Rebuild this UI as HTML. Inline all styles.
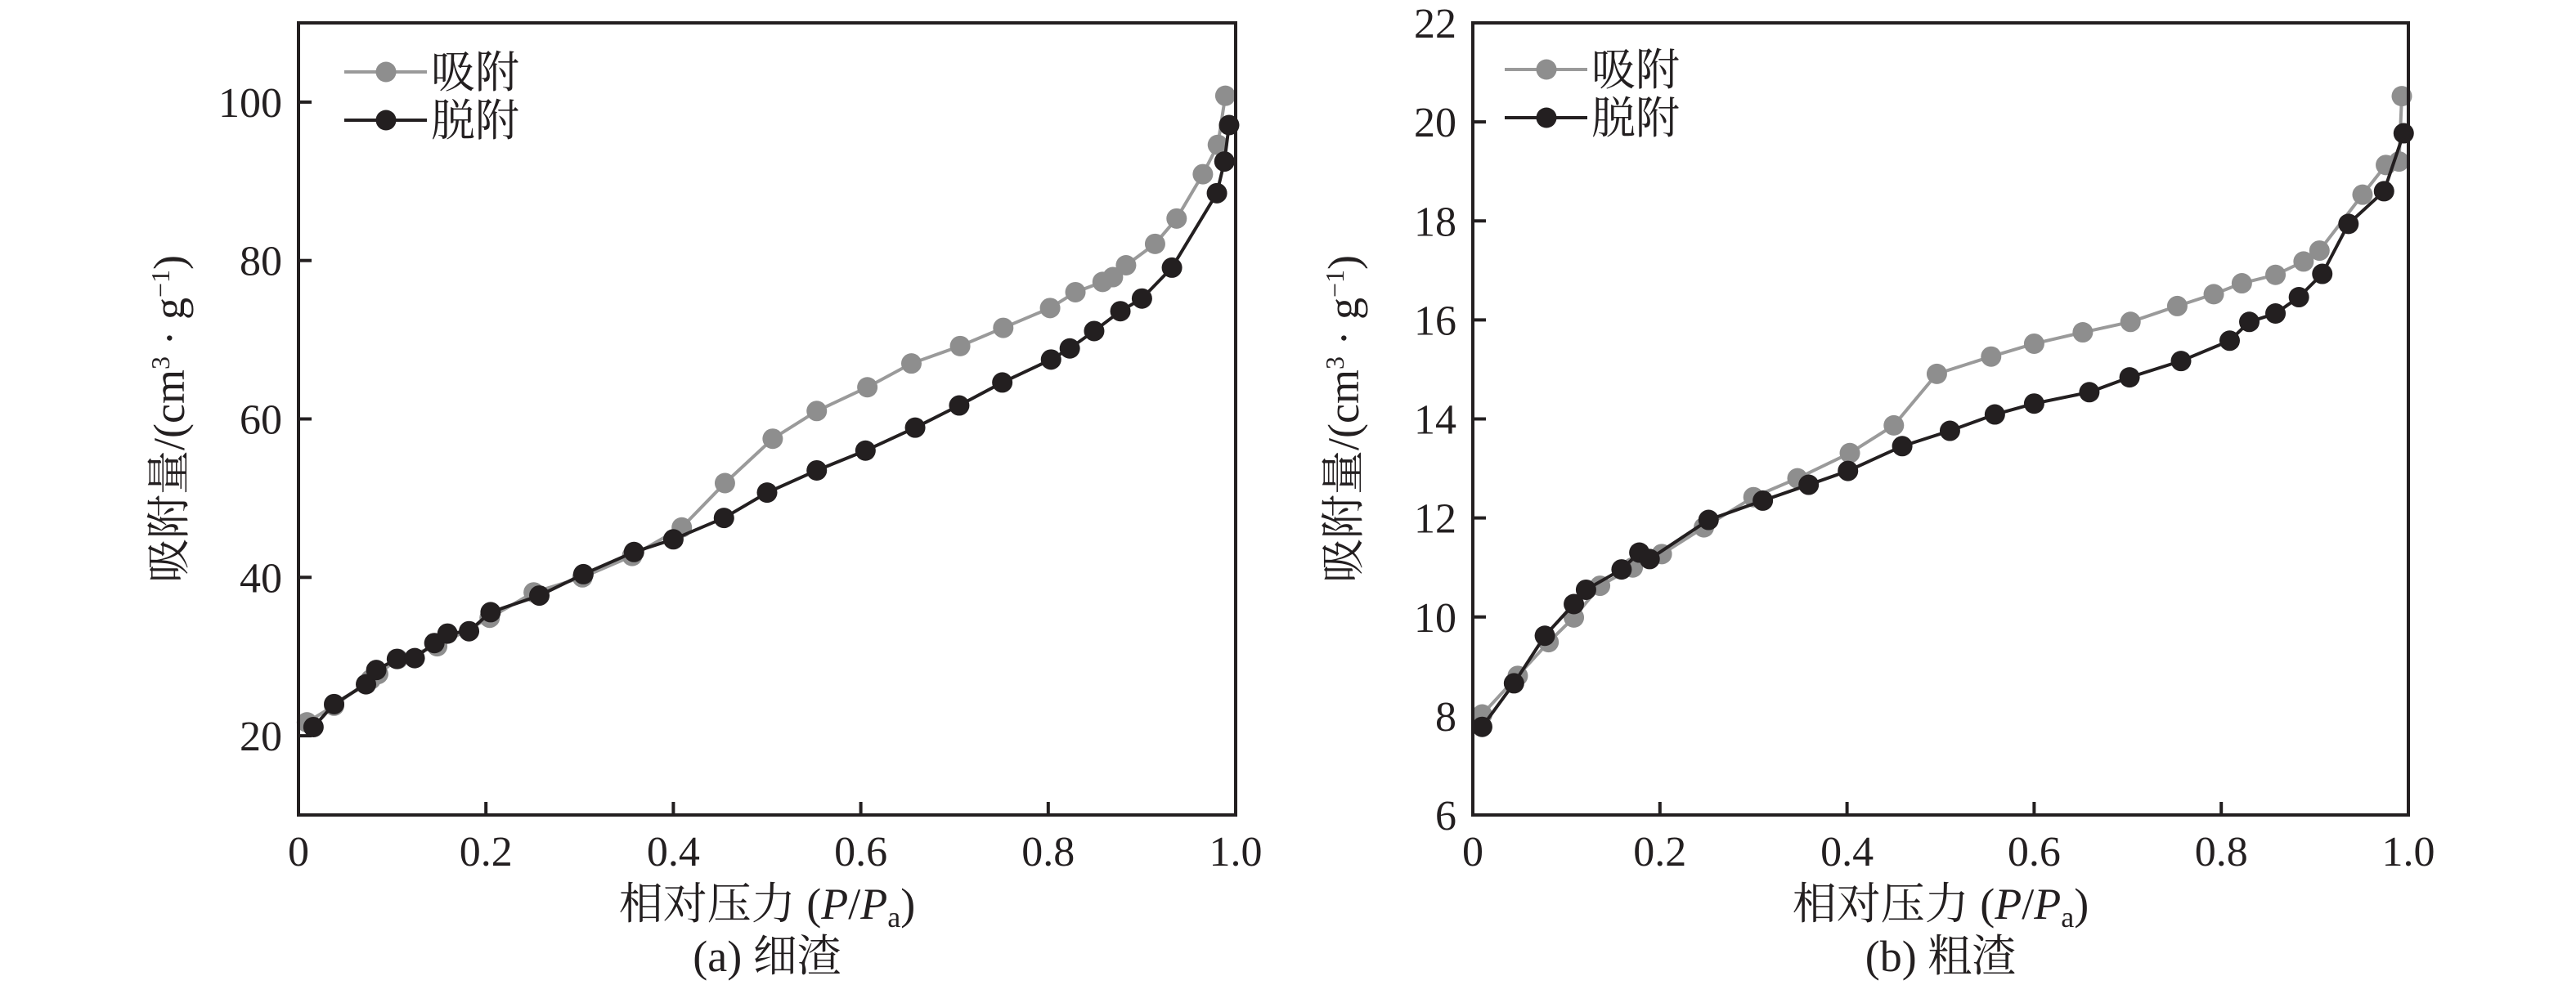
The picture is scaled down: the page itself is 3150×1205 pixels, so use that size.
<!DOCTYPE html>
<html><head><meta charset="utf-8"><style>
body{margin:0;background:#fff}
svg{display:block}
svg text{font-family:"Liberation Serif","Noto Serif CJK SC","Noto Sans CJK SC",serif;fill:#231f20}
</style></head><body>
<svg id="fig" width="3150" height="1205" viewBox="0 0 3150 1205" xmlns="http://www.w3.org/2000/svg" font-family="'Liberation Serif','Noto Serif CJK SC',serif"></svg>
<script>
// Panel (a) data
const aAdsX=[0.009,0.038,0.077,0.085,0.106,0.148,0.204,0.251,0.303,0.356,0.409,0.455,0.506,0.553,0.607,0.654,0.706,0.752,0.802,0.829,0.858,0.869,0.883,0.914,0.937,0.965,0.981,0.989];
const aAdsY=[21.7,23.8,27.1,27.8,29.7,31.3,34.9,38.1,40.0,42.7,46.3,51.9,57.5,61.0,64.0,67.0,69.2,71.5,74.0,76.0,77.3,77.9,79.4,82.1,85.3,90.9,94.6,100.8];
const aDesX=[0.016,0.038,0.072,0.083,0.105,0.124,0.145,0.159,0.182,0.205,0.257,0.304,0.358,0.400,0.454,0.500,0.553,0.605,0.658,0.705,0.751,0.803,0.823,0.849,0.877,0.900,0.932,0.980,0.988,0.993];
const aDesY=[21.1,24.0,26.5,28.3,29.7,29.8,31.7,32.9,33.2,35.6,37.7,40.4,43.2,44.8,47.5,50.7,53.5,56.0,58.9,61.7,64.6,67.5,68.9,71.1,73.6,75.2,79.1,88.5,92.5,97.1];
const aYTicks=[20,40,60,80,100];
// Panel (b) data
const bAdsX=[0.010,0.048,0.081,0.108,0.136,0.171,0.202,0.247,0.300,0.347,0.403,0.450,0.496,0.554,0.600,0.652,0.703,0.753,0.792,0.822,0.858,0.888,0.905,0.951,0.976,0.990,0.993];
const bAdsY=[8.03,8.81,9.49,9.99,10.63,11.0,11.27,11.81,12.42,12.8,13.31,13.87,14.91,15.26,15.52,15.75,15.96,16.28,16.52,16.74,16.91,17.18,17.4,18.53,19.13,19.2,20.52];
const bDesX=[0.010,0.044,0.077,0.108,0.121,0.159,0.178,0.189,0.252,0.310,0.359,0.401,0.459,0.510,0.558,0.600,0.659,0.702,0.757,0.809,0.830,0.858,0.883,0.908,0.936,0.974,0.995];
const bDesY=[7.78,8.66,9.62,10.26,10.55,10.96,11.3,11.17,11.96,12.35,12.67,12.95,13.45,13.76,14.09,14.31,14.54,14.84,15.17,15.58,15.96,16.13,16.46,16.93,17.94,18.6,19.77];
const bYTicks=[6,8,10,12,14,16,18,20,22];
const xTicks=[0,0.2,0.4,0.6,0.8,1.0];
const xTickLabels=["0","0.2","0.4","0.6","0.8","1.0"];
const legendLabels=["吸附","脱附"];

const NS="http://www.w3.org/2000/svg";
const svg=document.getElementById('fig');
function mk(tag,attrs,parent){const e=document.createElementNS(NS,tag);for(const k in attrs)e.setAttribute(k,attrs[k]);(parent||svg).appendChild(e);return e;}

function panel(id,L,R,T,B,ymin,ymax,yTicks,ads,des,caption,legX,legY){
  const g=mk('g',{});
  
  
  const sx=v=>L+(R-L)*v;
  const sy=v=>B-(B-T)*(v-ymin)/(ymax-ymin);
  xTicks.forEach((t,i)=>{
    const tk=mk('line',{x1:sx(t),x2:sx(t),y1:B,y2:B-16,stroke:'#231f20','stroke-width':4},g);
    
    
    const lb=mk('text',{x:sx(t),y:B+62,'font-size':52,'text-anchor':'middle'},g);
    lb.textContent=xTickLabels[i];
    
    
  });
  yTicks.forEach(t=>{
    const tk=mk('line',{x1:L,x2:L+16,y1:sy(t),y2:sy(t),stroke:'#231f20','stroke-width':4},g);
    
    
    const lb=mk('text',{x:L-20,y:sy(t)+18,'font-size':52,'text-anchor':'end'},g);
    lb.textContent=String(t);
    
    
  });
  const series=[[ads,'#9a9a9a','#8e8e8e','adsorption'],[des,'#231f20','#231f20','desorption']];
  series.forEach(([d,lc,mc,nm])=>{
    const pts=d[0].map((x,i)=>sx(x)+','+sy(d[1][i])).join(' ');
    const pl=mk('polyline',{points:pts,fill:'none',stroke:lc,'stroke-width':4},g);
    
    
    d[0].forEach((x,i)=>{
      const c=mk('circle',{cx:sx(x),cy:sy(d[1][i]),r:12.5,fill:mc},g);
      
      
    });
  });
  const fr=mk('rect',{x:L,y:T,width:R-L,height:B-T,fill:'none',stroke:'#231f20','stroke-width':4},g);
  
  
  [['#9a9a9a','#8e8e8e'],['#231f20','#231f20']].forEach((c,i)=>{
    const y=legY+i*59;
    const ln=mk('line',{x1:legX,x2:legX+101,y1:y,y2:y,stroke:c[0],'stroke-width':4},g);
    
    
    const m=mk('circle',{cx:legX+51,cy:y,r:12.5,fill:c[1]},g);
    
    
    const t=mk('text',{x:legX+106,y:y+19,'font-size':54},g);
    t.textContent=legendLabels[i];
    
    
  });
  const cx=(L+R)/2;
  const xt=mk('text',{x:cx,y:1124,'font-size':54,'text-anchor':'middle'},g);
  xt.innerHTML='相对压力 (<tspan font-style="italic">P</tspan>/<tspan font-style="italic">P</tspan><tspan font-size="36" dy="10">a</tspan><tspan dy="-10">)</tspan>';
  
  
  const cp=mk('text',{x:cx,y:1188,'font-size':54,'text-anchor':'middle'},g);
  cp.textContent=caption;
  
  
  const yx=L-140, yy=(T+B)/2;
  const yt=mk('text',{x:yx,y:yy,'font-size':54,'text-anchor':'middle',transform:`rotate(-90 ${yx} ${yy})`},g);
  yt.innerHTML='吸附量/(cm<tspan font-size="32" dy="-18">3</tspan><tspan dy="18"> · g</tspan><tspan font-size="32" dy="-18">−1</tspan><tspan dy="18">)</tspan>';
  
  
}
panel('panel-a-fine-slag',365,1511,28,997,10,110,aYTicks,[aAdsX,aAdsY],[aDesX,aDesY],'(a) 细渣',421,88);
panel('panel-b-coarse-slag',1801,2945,28,997,6,22,bYTicks,[bAdsX,bAdsY],[bDesX,bDesY],'(b) 粗渣',1840,85);
</script>
</body></html>
